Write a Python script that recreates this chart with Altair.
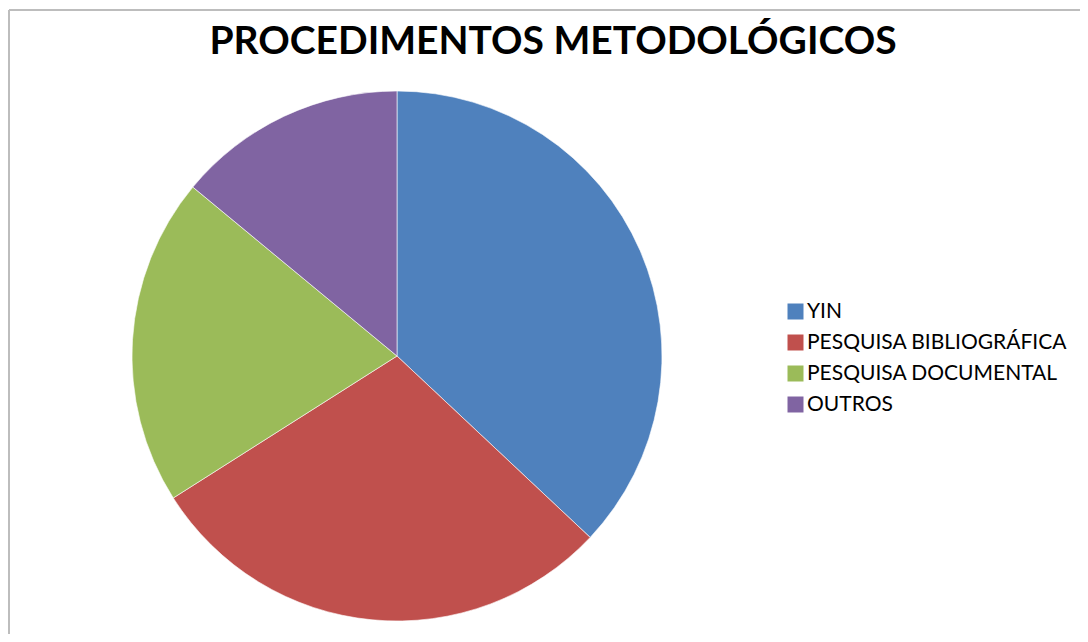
import altair as alt
import pandas as pd

categories = ["YIN", "PESQUISA BIBLIOGRÁFICA", "PESQUISA DOCUMENTAL", "OUTROS"]
values = [37, 29, 20, 14]
colors = ["#4F81BD", "#C0504D", "#9BBB59", "#8064A2"]
title_text = "PROCEDIMENTOS METODOLÓGICOS"

df = pd.DataFrame({"categoria": categories, "valor": values, "ordem": list(range(len(categories)))})

W, H = 1071, 624

pie = alt.Chart(df).mark_arc(radius=265, stroke="#ffffff", strokeWidth=0.6).encode(
    theta=alt.Theta("valor:Q", stack=True),
    color=alt.Color(
        "categoria:N",
        scale=alt.Scale(domain=categories, range=colors),
        sort=categories,
        legend=alt.Legend(
            title=None,
            orient="none",
            legendX=776,
            legendY=291,
            symbolType="square",
            symbolSize=256,
            symbolStrokeWidth=0,
            labelFont="Lato",
            labelFontSize=21,
            labelColor="#000000",
            labelOffset=1,
            rowPadding=9,
            padding=0,
            labelLimit=400,
        ),
    ),
    order=alt.Order("ordem:Q"),
    x=alt.value(388),
    y=alt.value(346),
)

title = alt.Chart(pd.DataFrame({"t": [title_text]})).mark_text(
    font="Lato", fontSize=39, fontWeight="bold", color="#000000",
    align="center", baseline="alphabetic"
).encode(text="t:N", x=alt.value(544), y=alt.value(44))

frame_df = pd.DataFrame({"a": [0]})
left_line = alt.Chart(frame_df).mark_rule(color="#bdbdbd", strokeWidth=2).encode(
    x=alt.value(0), y=alt.value(0), y2=alt.value(H)
)
top_line = alt.Chart(frame_df).mark_rule(color="#bdbdbd", strokeWidth=2).encode(
    x=alt.value(0), x2=alt.value(W), y=alt.value(0)
)

chart = alt.layer(left_line, top_line, pie, title).properties(
    width=W, height=H,
    padding={"left": 1, "top": 2, "right": 0, "bottom": 0},
    autosize="none",
    background="#ffffff",
).configure_view(stroke=None)

chart.save("out.html", embed_options={"renderer": "svg", "actions": False})
